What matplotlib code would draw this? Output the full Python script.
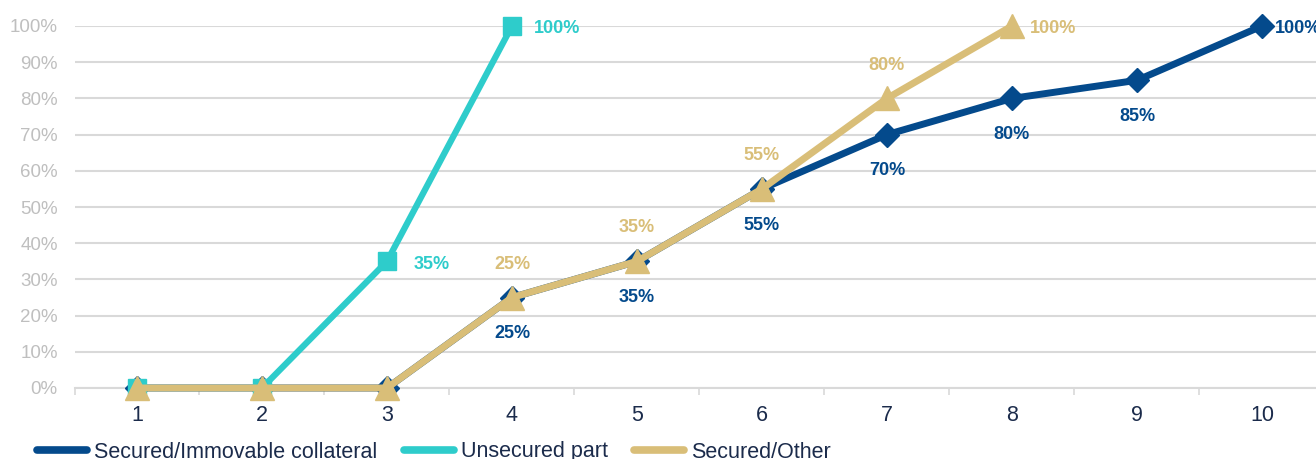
import matplotlib
matplotlib.use("Agg")
import matplotlib.pyplot as plt
from matplotlib.lines import Line2D
from matplotlib.ticker import FuncFormatter, MultipleLocator

plt.rcParams['font.family'] = ['Liberation Sans', 'DejaVu Sans']

periods = [1, 2, 3, 4, 5, 6, 7, 8, 9, 10]
secured_immovable = [0, 0, 0, 25, 35, 55, 70, 80, 85, 100]
unsecured_part = [0, 0, 35, 100]
secured_other = [0, 0, 0, 25, 35, 55, 80, 100]
series_names = ["Secured/Immovable collateral", "Unsecured part", "Secured/Other"]

NAVY = "#044A8C"
TEAL = "#2ECCCB"
TAN = "#D9BE78"
GRAY = "#BFBFBF"
DARK = "#1B2B4B"

fig = plt.figure(figsize=(13.16, 4.59), dpi=100)
ax = fig.add_axes([74.5 / 1316, 1 - 388 / 459, 1250 / 1316, 362 / 459])

ax.plot(periods, secured_immovable, color=NAVY, lw=5, marker='D', ms=12,
        zorder=3, clip_on=False)
ax.plot(periods[:len(unsecured_part)], unsecured_part, color=TEAL, lw=4.5, marker='s', ms=12.5,
        zorder=4, clip_on=False)
ax.plot(periods[:len(secured_other)], secured_other, color=TAN, lw=5, marker='^', ms=17,
        zorder=5, clip_on=False)

lab_kw = dict(textcoords='offset points', fontsize=13, fontweight='bold')
# navy labels: below, last one right
for i, (x, v) in enumerate(zip(periods, secured_immovable)):
    if v <= 0:
        continue
    if i == len(secured_immovable) - 1:
        ax.annotate(f"{v}%", (x, v), xytext=(9, -2), ha='left', va='center', color=NAVY, **lab_kw)
    else:
        ax.annotate(f"{v}%", (x, v), xytext=(0, -26), ha='center', va='center', color=NAVY, **lab_kw)
for i, (x, v) in enumerate(zip(periods, secured_other)):
    if v <= 0:
        continue
    if i == len(secured_other) - 1:
        ax.annotate(f"{v}%", (x, v), xytext=(13, -2), ha='left', va='center', color=TAN, **lab_kw)
    else:
        ax.annotate(f"{v}%", (x, v), xytext=(0, 24), ha='center', va='center', color=TAN, **lab_kw)
for i, (x, v) in enumerate(zip(periods, unsecured_part)):
    if v <= 0:
        continue
    off = 19 if v < 100 else 16
    ax.annotate(f"{v}%", (x, v), xytext=(off, -2), ha='left', va='center', color=TEAL, **lab_kw)

ax.set_xlim(0.5, 10.5)
ax.set_ylim(0, 100)
ax.yaxis.set_major_locator(MultipleLocator(10))
ax.yaxis.set_major_formatter(FuncFormatter(lambda v, p: f"{v:.0f}%"))
ax.set_xticks(periods)
ax.set_xticks([p + 0.5 for p in periods[:-1]] + [0.5], minor=True)
ax.tick_params(axis='y', length=0, pad=12, labelsize=13.5, labelcolor=GRAY)
ax.tick_params(axis='x', which='major', length=0, pad=12, labelsize=15.5, labelcolor=DARK)
ax.tick_params(axis='x', which='minor', length=5, width=1.2, color="#D9D9D9")
ax.grid(axis='y', color="#D9D9D9", lw=1.5, zorder=0)
ax.set_axisbelow(True)
for s in ['top', 'right', 'left']:
    ax.spines[s].set_visible(False)
ax.spines['bottom'].set_color("#D9D9D9")
ax.spines['bottom'].set_linewidth(1.5)

handles = [Line2D([], [], color=c, lw=5.5, solid_capstyle='round') for c in (NAVY, TEAL, TAN)]
fig.legend(handles, series_names, loc='center left', bbox_to_anchor=(37 / 1316, 7 / 459),
           ncol=3, frameon=False, fontsize=15.5, handlelength=2.34, handletextpad=0.33,
           columnspacing=1.2, borderpad=0, borderaxespad=0, labelcolor=DARK)

fig.savefig("out.png", dpi=100)
